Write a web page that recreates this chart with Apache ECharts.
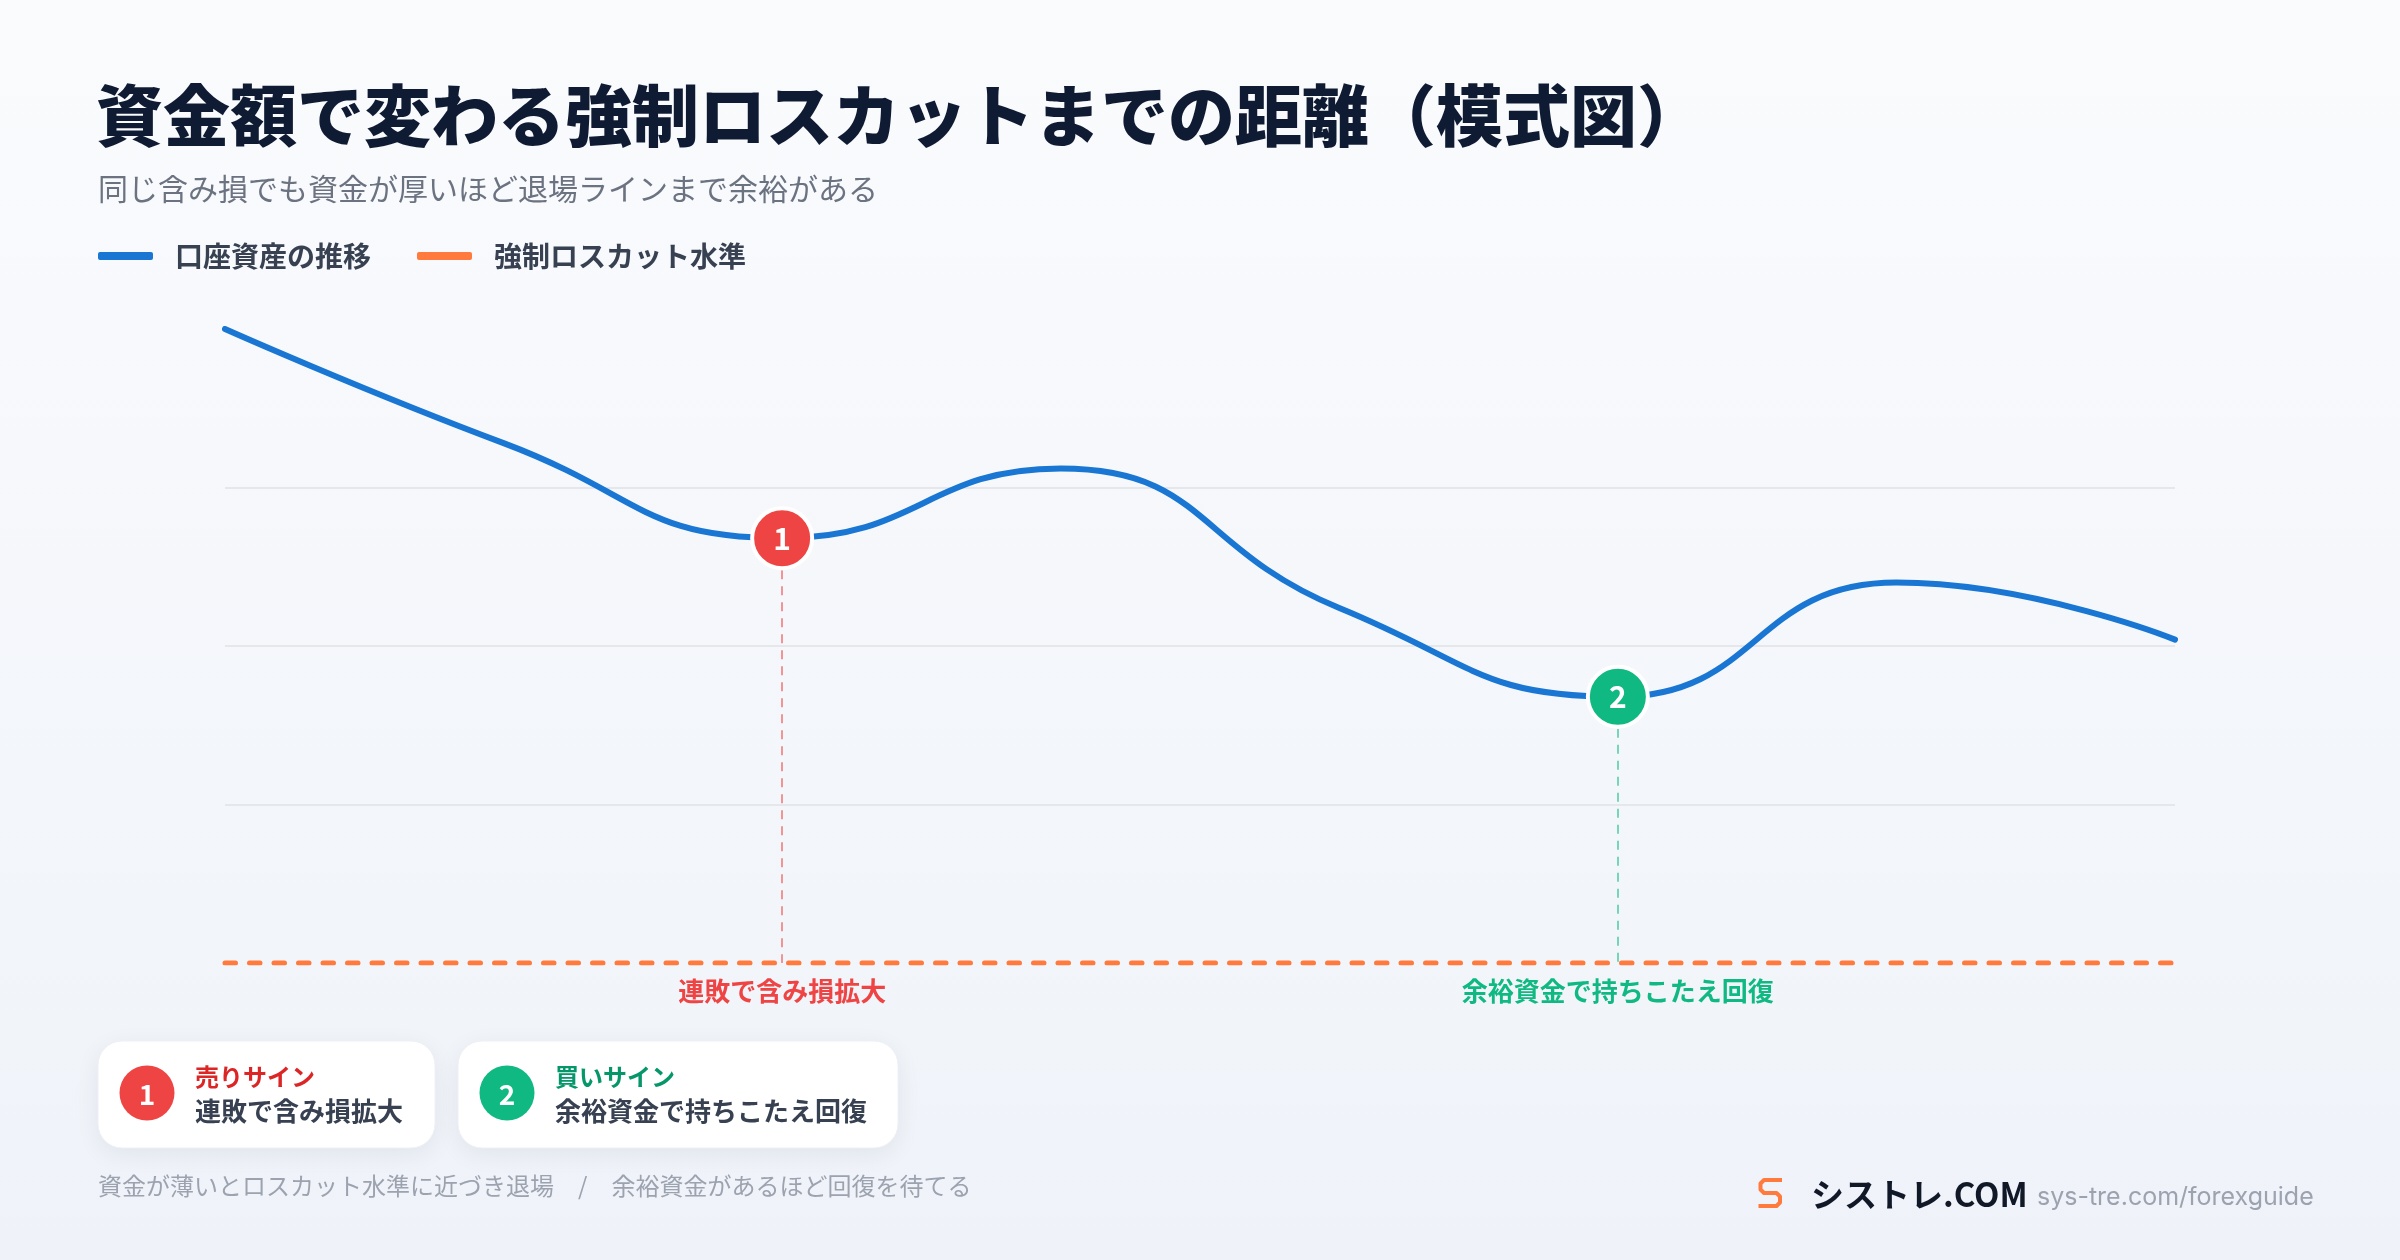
<!DOCTYPE html>
<html>
<head>
<meta charset="utf-8">
<script src="https://cdn.jsdelivr.net/npm/echarts@6/dist/echarts.min.js"></script>
<style>
html,body{margin:0;padding:0;}
#chart{width:2400px;height:1260px;}
</style>
</head>
<body>
<div id="chart"></div>
<script>
// ---- data ----
const categories = ['t1', 't2', 't3', 't4', 't5', 't6', 't7', 't8'];
const equity = [100, 82, 67, 78, 56, 42, 60, 51];
const lossCut = [0, 0, 0, 0, 0, 0, 0, 0];
const seriesNames = ['口座資産の推移', '強制ロスカット水準'];
const signalIdx = [2, 5];
const signalNums = ['1', '2'];
const signalTitles = ['売りサイン', '買いサイン'];
const signalTexts = ['連敗で含み損拡大', '余裕資金で持ちこたえ回復'];
const titleText = '資金額で変わる強制ロスカットまでの距離（模式図）';
const subText = '同じ含み損でも資金が厚いほど退場ラインまで余裕がある';
const footText = '資金が薄いとロスカット水準に近づき退場　/　余裕資金があるほど回復を待てる';
const brandText = 'シストレ.COM';
const urlText = 'sys-tre.com/forexguide';

const JP = "'Noto Sans CJK JP', 'Noto Sans', sans-serif";
const C_BLUE = '#1976D2', C_ORANGE = '#FF7A3C';
const C_RED = '#EF4444', C_GREEN = '#10B981';
const sigColors = [C_RED, C_GREEN];
const sigTitleColors = ['#DC2626', '#059669'];
const dropColors = ['rgba(239,68,68,0.55)', 'rgba(16,185,129,0.55)'];

const chart = echarts.init(document.getElementById('chart'), null, {renderer: 'canvas'});

const markPts = signalIdx.map((idx, i) => ({
  coord: [idx, equity[idx]],
  value: signalNums[i],
  itemStyle: {color: sigColors[i]}
}));
const dropLines = signalIdx.map((idx, i) => ([
  {coord: [idx, equity[idx]], lineStyle: {color: dropColors[i]}},
  {coord: [idx, lossCut[idx]]}
]));
const bottomLabels = signalIdx.map((idx, i) => ({
  coord: [idx, lossCut[idx]],
  value: signalTexts[i],
  label: {color: sigColors[i]}
}));

// cards
const cardX = [98, 458], cardW = [337, 440];
const cardY = 1041, cardH = 107;
const cards = [];
signalIdx.forEach((idx, i) => {
  cards.push({
    type: 'rect', shape: {x: cardX[i], y: cardY, width: cardW[i], height: cardH, r: 24},
    style: {fill: '#FFFFFF', stroke: '#EDF0F5', lineWidth: 1, shadowBlur: 24, shadowOffsetY: 6, shadowColor: 'rgba(15,23,42,0.07)'}
  });
  cards.push({
    type: 'circle', shape: {cx: cardX[i] + 49, cy: cardY + 52, r: 27.5},
    style: {fill: sigColors[i]}
  });
  cards.push({
    type: 'text', x: cardX[i] + 49, y: cardY + 53,
    style: {text: signalNums[i], fill: '#fff', font: "bold 28px " + JP, align: 'center', verticalAlign: 'middle'}
  });
  cards.push({
    type: 'text', x: cardX[i] + 97, y: cardY + 36,
    style: {text: signalTitles[i], fill: sigTitleColors[i], font: "bold 24px " + JP, align: 'left', verticalAlign: 'middle'}
  });
  cards.push({
    type: 'text', x: cardX[i] + 97, y: cardY + 70,
    style: {text: signalTexts[i], fill: '#374151', font: "bold 26px " + JP, align: 'left', verticalAlign: 'middle'}
  });
});

const option = {
  backgroundColor: {
    type: 'linear', x: 0, y: 0, x2: 0, y2: 1,
    colorStops: [{offset: 0, color: '#FAFBFD'}, {offset: 1, color: '#EFF3F9'}]
  },
  animation: false,
  title: [
    {text: titleText, left: 96, top: 74, padding: 0,
     textStyle: {fontFamily: JP, fontSize: 67, fontWeight: 900, color: '#0F1B33', lineHeight: 84}},
    {text: subText, left: 98, top: 171, padding: 0,
     textStyle: {fontFamily: JP, fontSize: 30, fontWeight: 'normal', color: '#6B7280', lineHeight: 36}}
  ],
  legend: {
    left: 98, top: 238, padding: 0,
    itemWidth: 55, itemHeight: 8, itemGap: 46,
    icon: 'roundRect',
    selectedMode: false,
    textStyle: {fontFamily: JP, fontSize: 28, fontWeight: 'bold', color: '#374151', lineHeight: 36, padding: [0, 0, 0, 17]},
    data: seriesNames
  },
  grid: {left: 225, right: 225, top: 329, bottom: 297, containLabel: false},
  xAxis: {
    type: 'category', data: categories, boundaryGap: false,
    axisLine: {show: false}, axisTick: {show: false}, axisLabel: {show: false}, splitLine: {show: false}
  },
  yAxis: {
    type: 'value', min: 0, max: 100, interval: 25,
    axisLine: {show: false}, axisTick: {show: false}, axisLabel: {show: false},
    splitLine: {show: true, showMinLine: false, showMaxLine: false, lineStyle: {color: '#E5E7EB', width: 2}}
  },
  series: [
    {
      name: seriesNames[0], type: 'line', data: equity, smooth: 0.5,
      symbol: 'none', color: C_BLUE, z: 3,
      lineStyle: {width: 6, color: C_BLUE, cap: 'round', join: 'round'},
      markPoint: {
        symbol: 'circle', symbolSize: 60, z: 10,
        itemStyle: {borderColor: '#FFFFFF', borderWidth: 4},
        label: {show: true, formatter: p => p.value, color: '#fff', fontFamily: JP, fontSize: 30, fontWeight: 'bold'},
        data: markPts
      },
      markLine: {
        silent: true, symbol: ['none', 'none'], z: 1,
        label: {show: false},
        lineStyle: {type: [9, 7], width: 2},
        data: dropLines
      }
    },
    {
      name: seriesNames[1], type: 'line', data: lossCut,
      symbol: 'none', color: C_ORANGE, z: 2,
      lineStyle: {width: 5, color: C_ORANGE, type: [10.5, 14], cap: 'round'},
      markPoint: {
        symbol: 'circle', symbolSize: 0,
        label: {show: true, position: 'bottom', distance: 15, formatter: p => p.value,
                fontFamily: JP, fontSize: 26, fontWeight: 'bold'},
        data: bottomLabels
      }
    }
  ],
  graphic: [
    ...cards,
    {type: 'text', x: 98, y: 1186,
     style: {text: footText, fill: '#9CA3AF', font: "24px " + JP, align: 'left', verticalAlign: 'middle'}},
    {type: 'polyline', shape: {points: [[1782,1180],[1764,1180],[1760.5,1183.5],[1760.5,1189.5],[1764,1193],[1776.5,1193],[1780,1196.5],[1780,1202.5],[1776.5,1206],[1758.5,1206]]},
     style: {stroke: C_ORANGE, lineWidth: 4, fill: null, lineJoin: 'round'}},
    {type: 'text', x: 1811, y: 1194,
     style: {text: brandText, fill: '#111827', font: "bold 33px " + JP, align: 'left', verticalAlign: 'middle'}},
    {type: 'text', x: 2037, y: 1197,
     style: {text: urlText, fill: '#9CA3AF', font: "25px Inter, 'Noto Sans', sans-serif", align: 'left', verticalAlign: 'middle'}}
  ]
};
chart.setOption(option);
</script>
</body>
</html>
